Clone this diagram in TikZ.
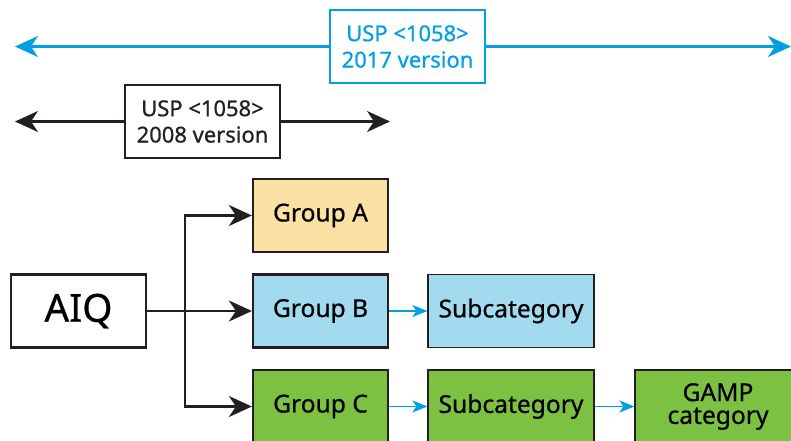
\documentclass[tikz,border=0pt]{standalone}
\usepackage{fontspec}
\setmainfont{Noto Sans}[FakeBold=0.7]
\usetikzlibrary{arrows.meta}
\definecolor{uspblue}{RGB}{0,160,227}
\definecolor{boxline}{RGB}{35,31,32}
\definecolor{groupa}{RGB}{252,225,164}
\definecolor{groupb}{RGB}{162,219,240}
\definecolor{groupc}{RGB}{125,193,67}
\begin{document}
\begin{tikzpicture}[x=0.02cm,y=-0.02cm,
  grp/.style={draw=boxline,line width=1.3pt,minimum width=2.7cm,minimum height=1.46cm,font=\fontsize{14}{16}\selectfont},
  sub/.style={draw=boxline,line width=0.7pt,minimum width=3.32cm,minimum height=1.46cm,font=\fontsize{14}{16}\selectfont,align=center},
  usp/.style={line width=1pt,minimum width=3.1cm,minimum height=1.46cm,align=center,font=\fontsize{12.5}{15}\selectfont},
  bigarr/.style={line width=1.3pt,boxline,-{Stealth[length=4.6mm,width=4.2mm,inset=1.4mm]}},
  bluearr/.style={line width=1.3pt,uspblue,-{Stealth[length=4.6mm,width=4.2mm,inset=1.4mm]}},
  smallarr/.style={line width=1pt,uspblue,-{Stealth[length=3mm,width=2.4mm,inset=0.8mm]}}]
\clip (0,0) rectangle (791,440);

\node[usp,draw=uspblue,text=uspblue] (usp17) at (407.5,46.5) {USP <1058>\\2017 version};
\node[usp,draw=boxline,text=boxline] (usp08) at (202.5,121.5) {USP <1058>\\2008 version};
\coordinate (l17) at (15,46.5);
\coordinate (r17) at (791,46.5);
\coordinate (l08) at (15,121.5);
\coordinate (r08) at (390,121.5);
\draw[bluearr] (usp17.west) -- (l17);
\draw[bluearr] (usp17.east) -- (r17);
\draw[bigarr] (usp08.west) -- (l08);
\draw[bigarr] (usp08.east) -- (r08);

\node[grp,fill=white,font=\fontsize{22}{24}\selectfont] (aiq) at (78.5,311) {AIQ};
\node[grp,fill=groupa] (grpA) at (320.5,215.5) {Group A};
\node[grp,fill=groupb] (grpB) at (320.5,311) {Group B};
\node[grp,fill=groupc] (grpC) at (320.5,406.5) {Group C};
\node[sub,fill=groupb] (subB) at (511,311) {Subcategory};
\node[sub,fill=groupc] (subC) at (511,406.5) {Subcategory};
\node[sub,fill=groupc] (gamp) at (718,406.5) {GAMP\\[-3pt]category};

\coordinate (fork) at (185,311);
\draw[bigarr] (aiq.east) -- (grpB.west);
\draw[bigarr] (fork) |- (grpA.west);
\draw[bigarr] (fork) |- (grpC.west);

\draw[smallarr] (grpB.east) -- (subB.west);
\draw[smallarr] (grpC.east) -- (subC.west);
\draw[smallarr] (subC.east) -- (gamp.west);
\end{tikzpicture}
\end{document}
